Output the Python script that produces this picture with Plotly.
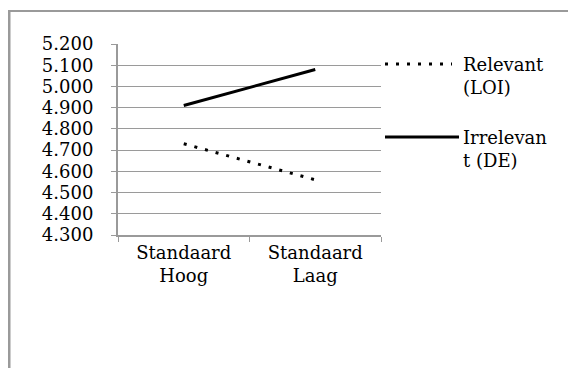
import plotly.graph_objects as go

categories = ["Standaard<br>Hoog", "Standaard<br>Laag"]
relevant_loi = [4.73, 4.56]
irrelevant_de = [4.91, 5.08]
series_names = ["Relevant<br>(LOI)", "Irrelevan<br>t (DE)"]
y_ticks = [4.3, 4.4, 4.5, 4.6, 4.7, 4.8, 4.9, 5.0, 5.1, 5.2]

FONT = "DejaVu Serif"
FS = 18
GRAY = "#9a9a9a"
OFF = 8  # page body margin
DOT = "3px,8px"

fig = go.Figure()
fig.add_trace(go.Scatter(x=categories, y=relevant_loi, mode="lines",
                         line=dict(color="black", width=3, dash=DOT),
                         showlegend=False, name="Relevant (LOI)"))
fig.add_trace(go.Scatter(x=categories, y=irrelevant_de, mode="lines",
                         line=dict(color="black", width=3),
                         showlegend=False, name="Irrelevant (DE)"))

W, H = 576 - OFF, 368 - OFF
L, T = 118 - OFF, 44 - OFF
R = W - (381 - OFF)
B = H - (235 - OFF)
pw = W - L - R
ph = H - T - B

def px(x):
    return (x - OFF - L) / pw

def py(y):
    return (H - B - (y - OFF)) / ph

# frame (outer chart border)
fig.add_shape(type="line", xref="paper", yref="paper",
              x0=px(OFF), x1=px(600), y0=py(11), y1=py(11),
              line=dict(color=GRAY, width=2))
fig.add_shape(type="line", xref="paper", yref="paper",
              x0=px(OFF + 1), x1=px(OFF + 1), y0=py(11), y1=py(400),
              line=dict(color=GRAY, width=3))

# legend
fig.add_shape(type="line", xref="paper", yref="paper",
              x0=px(385), x1=px(452), y0=py(64), y1=py(64),
              line=dict(color="black", width=3, dash=DOT))
fig.add_shape(type="line", xref="paper", yref="paper",
              x0=px(385), x1=px(459), y0=py(137), y1=py(137),
              line=dict(color="black", width=3))
fig.add_annotation(xref="paper", yref="paper", x=px(461), y=py(64),
                   text=series_names[0], showarrow=False, xanchor="left",
                   yanchor="top", align="left", yshift=12,
                   font=dict(family=FONT, size=FS, color="black"))
fig.add_annotation(xref="paper", yref="paper", x=px(461), y=py(137),
                   text=series_names[1], showarrow=False, xanchor="left",
                   yanchor="top", align="left", yshift=12,
                   font=dict(family=FONT, size=FS, color="black"))

fig.update_layout(
    width=W, height=H,
    margin=dict(l=L, r=R, t=T, b=B),
    paper_bgcolor="white", plot_bgcolor="white",
    font=dict(family=FONT, size=FS, color="black"),
)
fig.update_xaxes(type="category", tickson="boundaries", ticks="outside",
                 ticklen=5, tickcolor=GRAY, showline=True, linecolor=GRAY,
                 linewidth=2, showgrid=False, tickfont=dict(size=FS),
                 range=[-0.5, 1.5])
fig.update_yaxes(range=[4.3, 5.2], tickvals=y_ticks, tickformat=".3f",
                 ticks="outside", ticklen=5, tickcolor=GRAY, showline=True,
                 linecolor=GRAY, linewidth=2, showgrid=True, gridcolor=GRAY,
                 gridwidth=1, zeroline=False, tickfont=dict(size=FS),
                 ticklabelstandoff=14)

fig.write_html("out.html")
